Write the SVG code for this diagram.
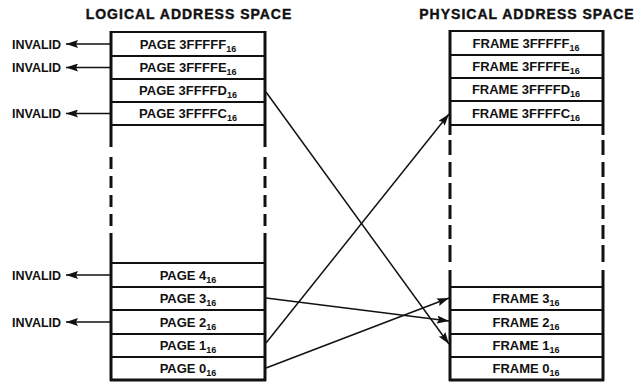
<svg xmlns="http://www.w3.org/2000/svg" width="639" height="382" viewBox="0 0 639 382">
<style>
.t{font-family:"Liberation Sans",Arial,sans-serif;font-weight:bold;font-size:13px;fill:#111;text-anchor:middle}
.h{font-family:"Liberation Sans",Arial,sans-serif;font-weight:bold;font-size:14px;letter-spacing:1px;fill:#111;text-anchor:middle;stroke:#111;stroke-width:0.4}
.inv{font-family:"Liberation Sans",Arial,sans-serif;font-weight:bold;font-size:12.5px;fill:#111;text-anchor:start}
.s{font-size:9px}
.side{fill:none;stroke:#111;stroke-width:3}
.div{fill:none;stroke:#111;stroke-width:2}
.c{fill:none;stroke:#111;stroke-width:1.5;marker-end:url(#ah)}
</style>
<defs>
<marker id="ah" viewBox="0 0 12 8" refX="12" refY="4" markerWidth="12" markerHeight="8" markerUnits="userSpaceOnUse" orient="auto">
<path d="M0,0 L12,4 L0,8 L2,4 Z" fill="#111"/>
</marker>
</defs>
<rect width="639" height="382" fill="#fff"/>
<text class="h" x="189" y="19">LOGICAL ADDRESS SPACE</text>
<text class="h" x="527" y="19">PHYSICAL ADDRESS SPACE</text>

<g id="logical">
<path class="side" d="M111 31 V147 M111 157 V169 M111 176 V188 M111 195 V207 M111 214 V226 M111 233 V381 M265 31 V147 M265 157 V169 M265 176 V188 M265 195 V207 M265 214 V226 M265 233 V381"/>
<path class="div" d="M111 32 H265 M111 56 H265 M111 79 H265 M111 102 H265 M111 125 H265 M111 263 H265 M111 287 H265 M111 310 H265 M111 334 H265 M111 357 H265"/>
<path class="side" d="M110 380 H266"/>
</g>
<g id="page-3ffff"><text class="t" x="188" y="49">PAGE 3FFFFF<tspan class="s" dy="3">16</tspan></text></g>
<g id="page-3fffe"><text class="t" x="188" y="72">PAGE 3FFFFE<tspan class="s" dy="3">16</tspan></text></g>
<g id="page-3fffd"><text class="t" x="188" y="95">PAGE 3FFFFD<tspan class="s" dy="3">16</tspan></text></g>
<g id="page-3fffc"><text class="t" x="188" y="118">PAGE 3FFFFC<tspan class="s" dy="3">16</tspan></text></g>
<g id="page-4"><text class="t" x="188" y="280">PAGE 4<tspan class="s" dy="3">16</tspan></text></g>
<g id="page-3"><text class="t" x="188" y="303">PAGE 3<tspan class="s" dy="3">16</tspan></text></g>
<g id="page-2"><text class="t" x="188" y="327">PAGE 2<tspan class="s" dy="3">16</tspan></text></g>
<g id="page-1"><text class="t" x="188" y="350">PAGE 1<tspan class="s" dy="3">16</tspan></text></g>
<g id="page-0"><text class="t" x="188" y="373">PAGE 0<tspan class="s" dy="3">16</tspan></text></g>

<g id="physical">
<path class="side" d="M450 30 V135 M450 140 V155 M450 162 V177 M450 183 V199 M450 205 V219 M450 225 V239 M450 245 V262 M450 270 V381 M603 30 V135 M603 140 V155 M603 162 V177 M603 183 V199 M603 205 V219 M603 225 V239 M603 245 V262 M603 270 V381"/>
<path class="div" d="M450 31 H603 M450 55 H603 M450 78 H603 M450 101 H603 M450 125 H603 M450 287 H603 M450 310 H603 M450 334 H603 M450 357 H603"/>
<path class="side" d="M449 380 H604"/>
</g>
<g id="frame-3fffff"><text class="t" x="526" y="48">FRAME 3FFFFF<tspan class="s" dy="3">16</tspan></text></g>
<g id="frame-3ffffe"><text class="t" x="526" y="71">FRAME 3FFFFE<tspan class="s" dy="3">16</tspan></text></g>
<g id="frame-3ffffd"><text class="t" x="526" y="94">FRAME 3FFFFD<tspan class="s" dy="3">16</tspan></text></g>
<g id="frame-3ffffc"><text class="t" x="526" y="118">FRAME 3FFFFC<tspan class="s" dy="3">16</tspan></text></g>
<g id="frame-3"><text class="t" x="526" y="303">FRAME 3<tspan class="s" dy="3">16</tspan></text></g>
<g id="frame-2"><text class="t" x="526" y="327">FRAME 2<tspan class="s" dy="3">16</tspan></text></g>
<g id="frame-1"><text class="t" x="526" y="350">FRAME 1<tspan class="s" dy="3">16</tspan></text></g>
<g id="frame-0"><text class="t" x="526" y="373">FRAME 0<tspan class="s" dy="3">16</tspan></text></g>

<g id="invalid-labels">
<text class="inv" x="12" y="48.5">INVALID</text>
<text class="inv" x="12" y="72">INVALID</text>
<text class="inv" x="12" y="118">INVALID</text>
<text class="inv" x="12" y="279.5">INVALID</text>
<text class="inv" x="12" y="326.5">INVALID</text>
</g>

<g id="connectors">
<path class="c" d="M110 44 H66"/>
<path class="c" d="M110 67.5 H66"/>
<path class="c" d="M110 113.5 H66"/>
<path class="c" d="M110 275 H66"/>
<path class="c" d="M110 322 H66"/>
<path class="c" d="M266 92 L449 344"/>
<path class="c" d="M266 298 L449 321"/>
<path class="c" d="M266 343 L449 114"/>
<path class="c" d="M266 368 L449 298"/>
</g>
</svg>
